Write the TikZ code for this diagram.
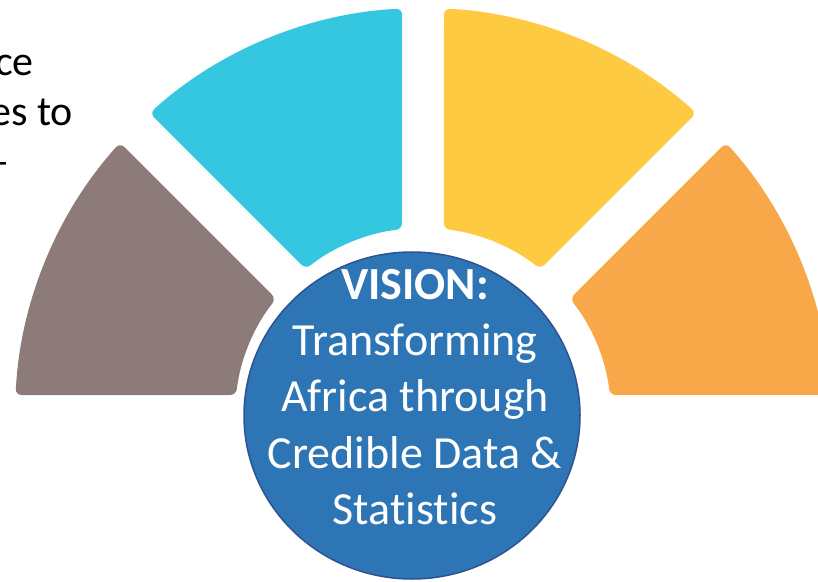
\documentclass[tikz,border=0pt]{standalone}
\usepackage{fontspec}
\setmainfont{Carlito}[Ligatures=NoCommon]
\usetikzlibrary{shapes.geometric,positioning}
\definecolor{segbrown}{HTML}{8C7B78}
\definecolor{segcyan}{HTML}{35C6E0}
\definecolor{segyellow}{HTML}{FDCA42}
\definecolor{segorange}{HTML}{F8A848}
\definecolor{visionblue}{HTML}{2E75B6}
\definecolor{visionedge}{HTML}{2F528F}
\begin{document}
\begin{tikzpicture}[x=1pt,y=1pt,
   disc/.style={ellipse,fill=visionblue,draw=visionedge,line width=1.5pt,
     minimum width=336pt,minimum height=327pt},
   sector/.style={rounded corners=6pt},
   note/.style={inner sep=0pt,anchor=base east,font=\fontsize{42}{50}\selectfont}]
   \clip (0,0) rectangle (818,581);
   % four segments round the vision
   \begin{scope}[shift={(423,165)}]
   \foreach \s/\e/\col in {135/180/segbrown,90/135/segcyan,45/90/segyellow,0/45/segorange}{
     \fill[\col,sector] (\s+2.95:408) arc[start angle=\s+2.95,end angle=\e-2.95,radius=408]
        -- (\e-6.41:188) arc[start angle=\e-6.41,end angle=\s+6.41,radius=188] -- cycle;
   }
   \end{scope}
   \node[disc] (disc) at (412,165.5) {};
   \node[align=center,text=white,inner sep=0pt,font=\fontsize{46}{56.3}\selectfont]
     (vision) at (415,184) {\textbf{VISION:}\\Transforming\\Africa through\\Credible Data \&\\Statistics};
   % text cut off at the left
   \node[note] (ce) at (34,505) {ce};
   \node[note] (esto) at (73,455) {es to};
   \node[note] (dash) at (10,405) {–};
\end{tikzpicture}
\end{document}
